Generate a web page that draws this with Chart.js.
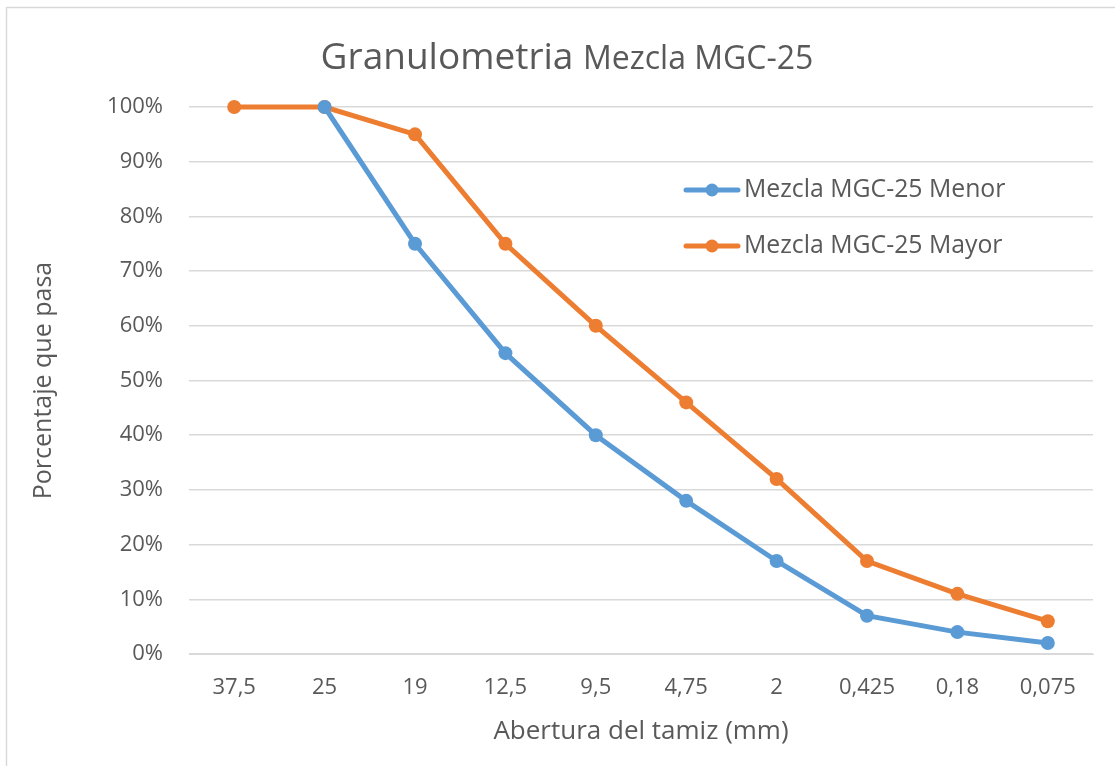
<!DOCTYPE html>
<html>
<head>
<meta charset="utf-8">
<script src="https://cdn.jsdelivr.net/npm/chart.js@4.4.1/dist/chart.umd.min.js"></script>
<style>
  html, body { margin: 0; padding: 0; background: #ffffff; }
  #canvasGranulo { display: block; }
</style>
</head>
<body>
<canvas id="canvasGranulo" width="1115" height="766"></canvas>
<script>
// aberturas de tamiz (mm)
var aberturas = ['37,5', '25', '19', '12,5', '9,5', '4,75', '2', '0,425', '0,18', '0,075'];
// porcentaje que pasa
var pasaMenor = [null, 100, 75, 55, 40, 28, 17, 7, 4, 2];
var pasaMayor = [100, 100, 95, 75, 60, 46, 32, 17, 11, 6];
var yTicks = [0, 10, 20, 30, 40, 50, 60, 70, 80, 90, 100];

var colorTexto = '#595959';
var fuente = '"Open Sans", sans-serif';

// marco gris del grafico
var marcoPlugin = {
    id: 'marco',
    beforeDraw: function (chart) {
        var ctx = chart.ctx;
        ctx.save();
        ctx.fillStyle = '#ffffff';
        ctx.fillRect(0, 0, chart.width, chart.height);
        ctx.strokeStyle = '#d9d9d9';
        ctx.lineWidth = 1.5;
        ctx.strokeRect(6.5, 7.5, chart.width + 10, chart.height + 10);
        ctx.restore();
    }
};

// titulo con dos tamaños de letra
var tituloPlugin = {
    id: 'tituloMixto',
    afterDraw: function (chart) {
        var ctx = chart.ctx;
        ctx.save();
        ctx.fillStyle = colorTexto;
        ctx.textBaseline = 'alphabetic';
        var parte1 = 'Granulometria ';
        var parte2 = 'Mezcla MGC-25';
        ctx.font = '37px ' + fuente;
        var w1 = ctx.measureText(parte1).width;
        ctx.font = '32px ' + fuente;
        var w2 = ctx.measureText(parte2).width;
        var x = 567 - (w1 + w2) / 2;
        ctx.font = '37px ' + fuente;
        ctx.fillText(parte1, x, 69);
        ctx.font = '32px ' + fuente;
        ctx.fillText(parte2, x + w1, 69);
        ctx.restore();
    }
};

// leyenda dentro del area del grafico
var leyendaPlugin = {
    id: 'leyendaDentro',
    afterDraw: function (chart) {
        var ctx = chart.ctx;
        var filas = [190, 246];
        ctx.save();
        chart.data.datasets.forEach(function (ds, i) {
            var y = filas[i];
            ctx.strokeStyle = ds.borderColor;
            ctx.lineWidth = 5;
            ctx.lineCap = 'round';
            ctx.beginPath();
            ctx.moveTo(686, y);
            ctx.lineTo(738, y);
            ctx.stroke();
            ctx.fillStyle = ds.borderColor;
            ctx.beginPath();
            ctx.arc(712, y, 6.5, 0, Math.PI * 2);
            ctx.fill();
            ctx.fillStyle = colorTexto;
            ctx.font = '24.8px ' + fuente;
            ctx.textBaseline = 'middle';
            ctx.fillText(ds.label, 744, y);
        });
        ctx.restore();
    }
};

var config = {
    type: 'line',
    data: {
        labels: aberturas,
        datasets: [{
            label: 'Mezcla MGC-25 Menor',
            data: pasaMenor,
            borderColor: '#5b9bd5',
            backgroundColor: '#5b9bd5',
            borderWidth: 5,
            pointRadius: 7,
            pointHoverRadius: 7,
            pointBorderWidth: 0,
            tension: 0,
            clip: false
        }, {
            label: 'Mezcla MGC-25 Mayor',
            data: pasaMayor,
            borderColor: '#ed7d31',
            backgroundColor: '#ed7d31',
            borderWidth: 5,
            pointRadius: 7,
            pointHoverRadius: 7,
            pointBorderWidth: 0,
            tension: 0,
            clip: false
        }]
    },
    options: {
        responsive: false,
        animation: false,
        layout: {
            padding: { left: 0, top: 107, right: 22, bottom: 0 }
        },
        scales: {
            x: {
                offset: true,
                grid: { display: false, drawTicks: false },
                border: { display: true, color: '#d9d9d9', width: 1 },
                ticks: {
                    color: colorTexto,
                    font: { family: fuente, size: 22 },
                    padding: 21,
                    maxRotation: 0,
                    autoSkip: false
                },
                title: {
                    display: true,
                    text: 'Abertura del tamiz (mm)',
                    color: colorTexto,
                    font: { family: fuente, size: 26 },
                    padding: { top: 0, bottom: 19 }
                },
                afterFit: function (scale) { scale.height = 112; }
            },
            y: {
                min: 0,
                max: 100,
                afterBuildTicks: function (scale) {
                    scale.ticks = yTicks.map(function (v) { return { value: v }; });
                },
                grid: { color: '#d9d9d9', lineWidth: 1.5, drawTicks: false },
                border: { display: false },
                ticks: {
                    color: colorTexto,
                    font: { family: fuente, size: 22 },
                    padding: 26,
                    callback: function (v) { return v + '%'; }
                },
                title: {
                    display: true,
                    text: 'Porcentaje que pasa',
                    color: colorTexto,
                    font: { family: fuente, size: 25 },
                    padding: { top: 29, bottom: 0 }
                },
                afterFit: function (scale) { scale.width = 189; }
            }
        },
        plugins: {
            legend: { display: false },
            title: { display: false },
            tooltip: { enabled: false }
        }
    },
    plugins: [marcoPlugin, tituloPlugin, leyendaPlugin]
};

var ctx = document.getElementById('canvasGranulo').getContext('2d');
var graficoGranulo = new Chart(ctx, config);
</script>
</body>
</html>
